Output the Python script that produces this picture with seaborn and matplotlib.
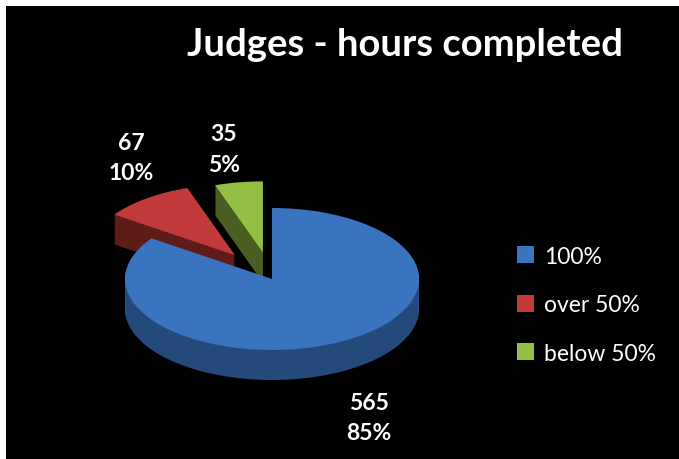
import numpy as np
import matplotlib
matplotlib.use("Agg")
import matplotlib.pyplot as plt
import seaborn as sns

# data
categories = ['100%', 'over 50%', 'below 50%']
hours = [565, 67, 35]
pct_labels = [85, 10, 5]

# colours: top face / side
top_colors = ['#3a73bf', '#c23b3a', '#92bf44']
side_colors = ['#244a7c', '#5e1c19', '#4b5e22']
explode = [0.0, 0.42, 0.38]

sns.set_theme(style="dark")
plt.rcParams['font.family'] = ['Lato', 'DejaVu Sans']

W, H = 679, 460
fig = plt.figure(figsize=(W / 100, H / 100), dpi=100)
fig.patch.set_facecolor('black')

# black panel, thin white strip on the left and top only
left, top, right, bottom = 6, 7, 679, 460
fig.patches.append(plt.Rectangle((0, 0), left / W, 1, transform=fig.transFigure,
                                 facecolor='white', edgecolor='none', zorder=5))
fig.patches.append(plt.Rectangle((0, 1 - top / H), 1, top / H, transform=fig.transFigure,
                                 facecolor='white', edgecolor='none', zorder=5))
ax = fig.add_axes([left / W, 1 - bottom / H, (right - left) / W, (bottom - top) / H])

sx, sy = 147.0, 71.0          # pixels per data unit (ellipse radii)
cx, cy = 272 - left, 280 - top  # pie centre inside the panel (px)
depth = 30 / sy
n_layers = 40


def draw_pie(which, yoff, colors):
    cols = [c if i in which else 'none' for i, c in enumerate(colors)]
    ax.pie(hours, colors=cols, explode=explode, startangle=90, counterclock=False,
           center=(0, yoff), radius=1, wedgeprops=dict(linewidth=0))


# back wedges first (exploded away from viewer), then the big blue one in front
for group in ([1, 2], [0]):
    for k in range(n_layers, 0, -1):
        draw_pie(group, -depth * k / n_layers, side_colors)
    draw_pie(group, 0, top_colors)

pw, ph = right - left, bottom - top
ax.set_aspect('auto')
ax.set_xlim(-cx / sx, (pw - cx) / sx)
ax.set_ylim(-(ph - cy) / sy, cy / sy)
ax.set_frame_on(True)
ax.set_facecolor('black')
for s in ax.spines.values():
    s.set_visible(False)
ax.set_xticks([])
ax.set_yticks([])


def px(x, y):
    return x / W, 1 - y / H


fig.text(*px(405, 45), 'Judges - hours completed', color='white', fontsize=27.5,
         fontweight='bold', ha='center', va='center')

label_pos = [(369, 403), (131, 143), (224, 135)]
for (x, y), v, p in zip(label_pos, hours, pct_labels):
    fig.text(*px(x, y), f"{v}", color='white', fontsize=16.5, fontweight='bold',
             ha='center', va='center')
    fig.text(*px(x, y + 31), f"{p}%", color='white', fontsize=16.5, fontweight='bold',
             ha='center', va='center')

handles = [plt.Rectangle((0, 0), 1, 1, facecolor=c, edgecolor='none') for c in top_colors]
leg = fig.legend(handles, categories, loc='upper left', bbox_to_anchor=px(496, 226),
                 frameon=False, fontsize=16.5, labelcolor='white', handlelength=0.75,
                 handleheight=0.75, handletextpad=0.45, labelspacing=1.2)

fig.savefig('out.png', dpi=100, facecolor='black')
